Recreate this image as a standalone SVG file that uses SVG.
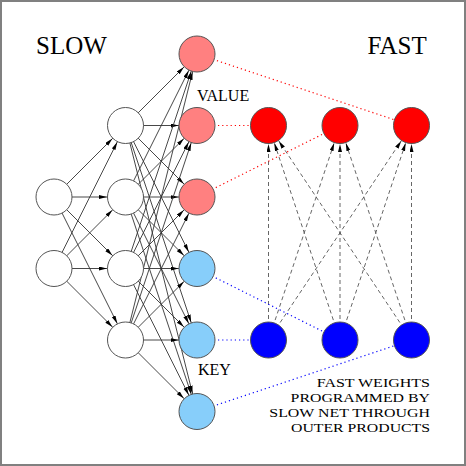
<svg xmlns="http://www.w3.org/2000/svg" width="466" height="466" viewBox="0 0 466 466">
<defs>
<style>
.s{stroke:#333;stroke-width:0.9;fill:none;marker-end:url(#ah)}
.d{stroke:#555;stroke-width:0.9;fill:none;stroke-dasharray:4 3;marker-end:url(#ah)}
.r{stroke:#ff0000;stroke-width:1.2;fill:none;stroke-dasharray:1.2 3}
.b{stroke:#0000ff;stroke-width:1.2;fill:none;stroke-dasharray:1.2 3}
circle{stroke:#555;stroke-width:1}
.w{fill:#fff}.lr{fill:#ff8080}.rd{fill:#ff0000}.lb{fill:#87cefa}.bl{fill:#0000ff}
.big{font-size:25px}.sm{font-size:16px}.nt{font-size:13.2px;text-anchor:end}
</style>
<marker id="ah" markerUnits="userSpaceOnUse" markerWidth="30" markerHeight="6" refX="26.5" refY="2" orient="auto"><path d="M0,0 L8,2 L0,4 Z" fill="#000"/></marker>
</defs>
<rect x="1" y="1" width="464" height="464" fill="#fff" stroke="#808080" stroke-width="2"/>
<g id="connectors">
<g id="in-hid">
<line class="s" x1="54" y1="197" x2="125.5" y2="125.5"/>
<line class="s" x1="54" y1="197" x2="125.5" y2="197"/>
<line class="s" x1="54" y1="197" x2="125.5" y2="268.5"/>
<line class="s" x1="54" y1="197" x2="125.5" y2="340"/>
<line class="s" x1="54" y1="268.5" x2="125.5" y2="125.5"/>
<line class="s" x1="54" y1="268.5" x2="125.5" y2="197"/>
<line class="s" x1="54" y1="268.5" x2="125.5" y2="268.5"/>
<line class="s" x1="54" y1="268.5" x2="125.5" y2="340"/>
</g>
<g id="hid-out">
<line class="s" x1="125.5" y1="125.5" x2="197" y2="54"/>
<line class="s" x1="125.5" y1="125.5" x2="197" y2="125.5"/>
<line class="s" x1="125.5" y1="125.5" x2="197" y2="197"/>
<line class="s" x1="125.5" y1="125.5" x2="197" y2="268.5"/>
<line class="s" x1="125.5" y1="125.5" x2="197" y2="340"/>
<line class="s" x1="125.5" y1="125.5" x2="197" y2="411.5"/>
<line class="s" x1="125.5" y1="197" x2="197" y2="54"/>
<line class="s" x1="125.5" y1="197" x2="197" y2="125.5"/>
<line class="s" x1="125.5" y1="197" x2="197" y2="197"/>
<line class="s" x1="125.5" y1="197" x2="197" y2="268.5"/>
<line class="s" x1="125.5" y1="197" x2="197" y2="340"/>
<line class="s" x1="125.5" y1="197" x2="197" y2="411.5"/>
<line class="s" x1="125.5" y1="268.5" x2="197" y2="54"/>
<line class="s" x1="125.5" y1="268.5" x2="197" y2="125.5"/>
<line class="s" x1="125.5" y1="268.5" x2="197" y2="197"/>
<line class="s" x1="125.5" y1="268.5" x2="197" y2="268.5"/>
<line class="s" x1="125.5" y1="268.5" x2="197" y2="340"/>
<line class="s" x1="125.5" y1="268.5" x2="197" y2="411.5"/>
<line class="s" x1="125.5" y1="340" x2="197" y2="54"/>
<line class="s" x1="125.5" y1="340" x2="197" y2="125.5"/>
<line class="s" x1="125.5" y1="340" x2="197" y2="197"/>
<line class="s" x1="125.5" y1="340" x2="197" y2="268.5"/>
<line class="s" x1="125.5" y1="340" x2="197" y2="340"/>
<line class="s" x1="125.5" y1="340" x2="197" y2="411.5"/>
</g>
<g id="fast">
<line class="d" x1="268.5" y1="340" x2="268.5" y2="125.5"/>
<line class="d" x1="268.5" y1="340" x2="340" y2="125.5"/>
<line class="d" x1="268.5" y1="340" x2="411.5" y2="125.5"/>
<line class="d" x1="340" y1="340" x2="268.5" y2="125.5"/>
<line class="d" x1="340" y1="340" x2="340" y2="125.5"/>
<line class="d" x1="340" y1="340" x2="411.5" y2="125.5"/>
<line class="d" x1="411.5" y1="340" x2="268.5" y2="125.5"/>
<line class="d" x1="411.5" y1="340" x2="340" y2="125.5"/>
<line class="d" x1="411.5" y1="340" x2="411.5" y2="125.5"/>
</g>
<g id="program">
<line class="r" x1="197" y1="54" x2="411.5" y2="125.5"/>
<line class="r" x1="197" y1="125.5" x2="268.5" y2="125.5"/>
<line class="r" x1="197" y1="197" x2="340" y2="125.5"/>
<line class="b" x1="197" y1="268.5" x2="340" y2="340"/>
<line class="b" x1="197" y1="340" x2="268.5" y2="340"/>
<line class="b" x1="197" y1="411.5" x2="411.5" y2="340"/>
</g>
</g>
<g id="in1"><circle class="w" cx="54" cy="197" r="18"/></g>
<g id="in2"><circle class="w" cx="54" cy="268.5" r="18"/></g>
<g id="h1"><circle class="w" cx="125.5" cy="125.5" r="18"/></g>
<g id="h2"><circle class="w" cx="125.5" cy="197" r="18"/></g>
<g id="h3"><circle class="w" cx="125.5" cy="268.5" r="18"/></g>
<g id="h4"><circle class="w" cx="125.5" cy="340" r="18"/></g>
<g id="v1"><circle class="lr" cx="197" cy="54" r="18"/></g>
<g id="v2"><circle class="lr" cx="197" cy="125.5" r="18"/></g>
<g id="v3"><circle class="lr" cx="197" cy="197" r="18"/></g>
<g id="k1"><circle class="lb" cx="197" cy="268.5" r="18"/></g>
<g id="k2"><circle class="lb" cx="197" cy="340" r="18"/></g>
<g id="k3"><circle class="lb" cx="197" cy="411.5" r="18"/></g>
<g id="f1"><circle class="rd" cx="268.5" cy="125.5" r="18"/></g>
<g id="f2"><circle class="rd" cx="340" cy="125.5" r="18"/></g>
<g id="f3"><circle class="rd" cx="411.5" cy="125.5" r="18"/></g>
<g id="g1"><circle class="bl" cx="268.5" cy="340" r="18"/></g>
<g id="g2"><circle class="bl" cx="340" cy="340" r="18"/></g>
<g id="g3"><circle class="bl" cx="411.5" cy="340" r="18"/></g>
<g id="labels" font-family="'Liberation Serif', 'Times New Roman', 'DejaVu Serif', serif" fill="#000">
<text class="big" x="36" y="54">SLOW</text>
<text class="big" x="367.5" y="54">FAST</text>
<text class="sm" x="197" y="100.5">VALUE</text>
<text class="sm" x="198" y="375">KEY</text>
<text class="nt" x="430" y="387.3" textLength="113.3" lengthAdjust="spacingAndGlyphs">FAST WEIGHTS</text>
<text class="nt" x="430" y="402" textLength="139.4" lengthAdjust="spacingAndGlyphs">PROGRAMMED BY</text>
<text class="nt" x="430" y="416.8" textLength="160.7" lengthAdjust="spacingAndGlyphs">SLOW NET THROUGH</text>
<text class="nt" x="430" y="431.5" textLength="139" lengthAdjust="spacingAndGlyphs">OUTER PRODUCTS</text>
</g>
</svg>
